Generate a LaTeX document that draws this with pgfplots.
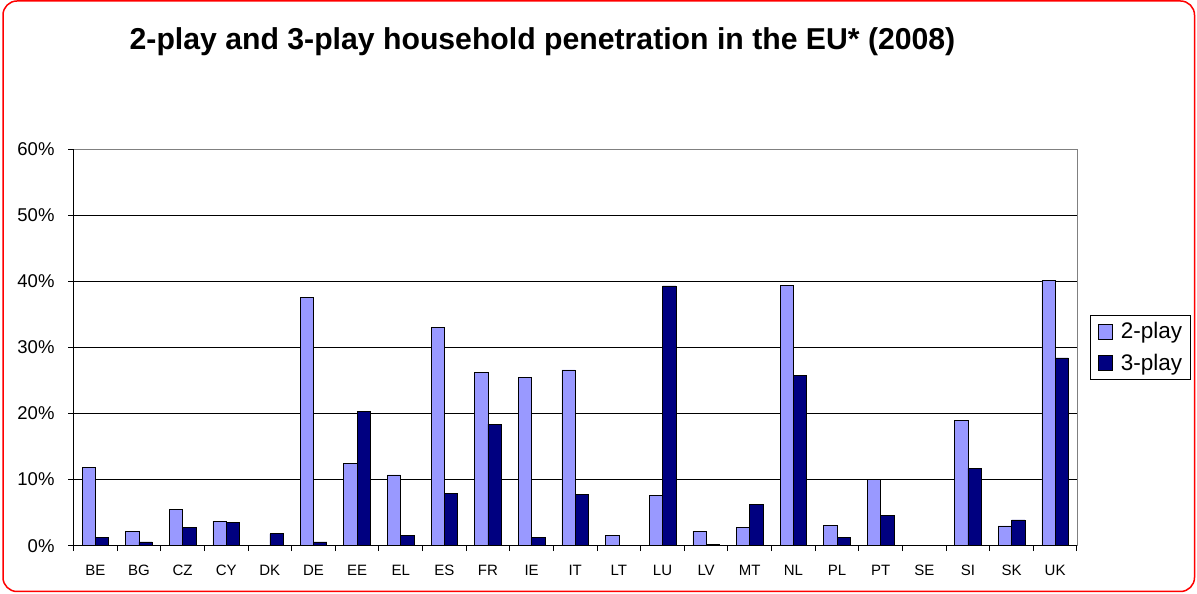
\documentclass[border=0pt]{standalone}
\usepackage{fontspec}
\setmainfont{Liberation Sans}
\usepackage{pgfplots}
\pgfplotsset{compat=1.18}
\definecolor{twoplay}{HTML}{9999FF}
\definecolor{threeplay}{HTML}{000080}
\begin{document}
\begin{tikzpicture}
\useasboundingbox (0,0) rectangle (1197bp,594bp);
\draw[red, line width=1.5bp, rounded corners=14bp] (3bp,2.5bp) rectangle (1194.5bp,593bp);
\node[anchor=base, font=\fontsize{30.2bp}{34bp}\selectfont\bfseries] at (542.5bp,544bp)
  {2-play and 3-play household penetration in the EU* (2008)};
\begin{axis}[
  at={(73.5bp,48.3bp)}, anchor=south west,
  scale only axis, width=1003.5bp, height=396.7bp,
  ybar=0pt, bar width=13.3bp,
  xmin=-0.5, xmax=22.5, ymin=0, ymax=60,
  xtick={-0.5,0.5,...,22.5},
  x tick label as interval,
  xticklabels={BE,BG,CZ,CY,DK,DE,EE,EL,ES,FR,IE,IT,LT,LU,LV,MT,NL,PL,PT,SE,SI,SK,UK},
  ytick={0,10,...,60},
  yticklabel={\pgfmathprintnumber{\tick}\%},
  /pgf/number format/assume math mode=true,
  xtick pos=bottom, ytick pos=left,
  xtick align=outside, ytick align=outside, major tick length=5.5bp,
  every tick/.style={black, line width=1bp},
  xticklabel style={font=\fontsize{15bp}{18bp}\selectfont, yshift=-10bp},
  yticklabel style={font=\fontsize{18.5bp}{22bp}\selectfont, xshift=-10bp},
  ymajorgrids, grid style={black, line width=0.8bp},
  axis line style={gray, line width=0.8bp},
  after end axis/.code={\draw[black, line width=0.8bp] (rel axis cs:0,1) -- (rel axis cs:0,0) -- (rel axis cs:1,0);},
  legend style={at={(1.013,0.5)}, anchor=west, draw=black, line width=0.6bp,
    font=\fontsize{22.5bp}{26bp}\selectfont, inner xsep=8bp, inner ysep=7bp,
    row sep=14bp, nodes={inner sep=0bp},
    /tikz/every odd column/.append style={column sep=8bp}},
  legend cell align=left,
  legend image code/.code={\draw[#1] (0bp,-7.5bp) rectangle (14bp,7.5bp);},
]
\addplot[fill=twoplay, draw=black, line width=0.6bp] coordinates {
  (0,11.8) (1,2.2) (2,5.5) (3,3.7) (4,0) (5,37.6) (6,12.4) (7,10.7)
  (8,33.0) (9,26.2) (10,25.5) (11,26.6) (12,1.5) (13,7.6) (14,2.2)
  (15,2.8) (16,39.4) (17,3.1) (18,10.0) (19,0) (20,19.0) (21,3.0) (22,40.1)
};
\addplot[fill=threeplay, draw=black, line width=0.6bp] coordinates {
  (0,1.3) (1,0.56) (2,2.8) (3,3.5) (4,1.8) (5,0.56) (6,20.3) (7,1.5)
  (8,7.9) (9,18.4) (10,1.3) (11,7.8) (12,0) (13,39.3) (14,0.2)
  (15,6.3) (16,25.8) (17,1.3) (18,4.6) (19,0) (20,11.7) (21,3.9) (22,28.4)
};
\legend{2-play,3-play}
\end{axis}
\end{tikzpicture}
\end{document}
